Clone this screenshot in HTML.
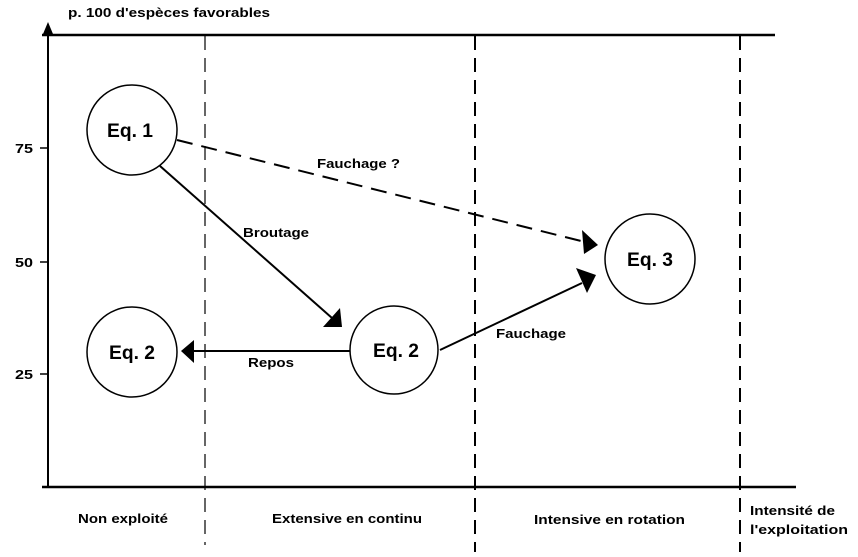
<!DOCTYPE html>
<html><head><meta charset="utf-8"><style>
html,body{margin:0;padding:0;background:#fff;}
svg{display:block}
text{font-family:"Liberation Sans",Arial,sans-serif;font-weight:bold;fill:#000}
</style></head><body>
<svg width="858" height="557" viewBox="0 0 858 557" xmlns="http://www.w3.org/2000/svg">
<line x1="48" y1="26" x2="48" y2="488" stroke="#000" stroke-width="2"/>
<polygon points="48,22 43,34 53,34" fill="#000"/>
<line x1="42" y1="35" x2="775" y2="35" stroke="#000" stroke-width="2.5"/>
<line x1="42" y1="487" x2="796" y2="487" stroke="#000" stroke-width="2.5"/>
<line x1="40" y1="148" x2="48" y2="148" stroke="#000" stroke-width="1.5"/>
<line x1="40" y1="262" x2="48" y2="262" stroke="#000" stroke-width="1.5"/>
<line x1="40" y1="374" x2="48" y2="374" stroke="#000" stroke-width="1.5"/>
<text x="15" y="153" font-size="13" textLength="18" lengthAdjust="spacingAndGlyphs">75</text>
<text x="15" y="267" font-size="13" textLength="18" lengthAdjust="spacingAndGlyphs">50</text>
<text x="15" y="379" font-size="13" textLength="18" lengthAdjust="spacingAndGlyphs">25</text>
<text x="68" y="17" font-size="13" textLength="202" lengthAdjust="spacingAndGlyphs">p. 100 d'espèces favorables</text>
<line x1="205" y1="36" x2="205" y2="545" stroke="#000" stroke-width="1.2" stroke-dasharray="14,8"/>
<line x1="475" y1="36" x2="475" y2="552" stroke="#000" stroke-width="2" stroke-dasharray="14,8"/>
<line x1="740" y1="36" x2="740" y2="552" stroke="#000" stroke-width="2" stroke-dasharray="14,8"/>
<circle cx="132" cy="130" r="45" fill="none" stroke="#000" stroke-width="1.5"/>
<circle cx="132" cy="352" r="45" fill="none" stroke="#000" stroke-width="1.5"/>
<circle cx="394" cy="350" r="44" fill="none" stroke="#000" stroke-width="1.5"/>
<circle cx="650" cy="259" r="45" fill="none" stroke="#000" stroke-width="1.5"/>
<text x="130" y="137" font-size="19" text-anchor="middle" textLength="46" lengthAdjust="spacingAndGlyphs">Eq. 1</text>
<text x="132" y="359" font-size="19" text-anchor="middle" textLength="46" lengthAdjust="spacingAndGlyphs">Eq. 2</text>
<text x="396" y="357" font-size="19" text-anchor="middle" textLength="46" lengthAdjust="spacingAndGlyphs">Eq. 2</text>
<text x="650" y="266" font-size="19" text-anchor="middle" textLength="46" lengthAdjust="spacingAndGlyphs">Eq. 3</text>
<line x1="160" y1="166" x2="332" y2="318" stroke="#000" stroke-width="2"/>
<polygon points="342,327 323,327 340,308" fill="#000"/>
<line x1="177" y1="140" x2="585" y2="242" stroke="#000" stroke-width="2" stroke-dasharray="16,9"/>
<polygon points="598,245 582,230 584,254" fill="#000"/>
<line x1="350" y1="351" x2="190" y2="351" stroke="#000" stroke-width="2"/>
<polygon points="181,351 194,340 194,363" fill="#000"/>
<line x1="440" y1="350" x2="582" y2="283" stroke="#000" stroke-width="2"/>
<polygon points="596,275 576,268 587,293" fill="#000"/>
<text x="317" y="168" font-size="13" textLength="83" lengthAdjust="spacingAndGlyphs">Fauchage ?</text>
<text x="243" y="237" font-size="13" textLength="66" lengthAdjust="spacingAndGlyphs">Broutage</text>
<text x="248" y="367" font-size="13" textLength="46" lengthAdjust="spacingAndGlyphs">Repos</text>
<text x="496" y="338" font-size="13" textLength="70" lengthAdjust="spacingAndGlyphs">Fauchage</text>
<text x="78" y="523" font-size="13" textLength="90" lengthAdjust="spacingAndGlyphs">Non exploité</text>
<text x="272" y="523" font-size="13" textLength="150" lengthAdjust="spacingAndGlyphs">Extensive en continu</text>
<text x="534" y="524" font-size="13" textLength="151" lengthAdjust="spacingAndGlyphs">Intensive en rotation</text>
<text x="750" y="515" font-size="13" textLength="85" lengthAdjust="spacingAndGlyphs">Intensité de</text>
<text x="750" y="534" font-size="13" textLength="98" lengthAdjust="spacingAndGlyphs">l'exploitation</text>
</svg>
</body></html>
